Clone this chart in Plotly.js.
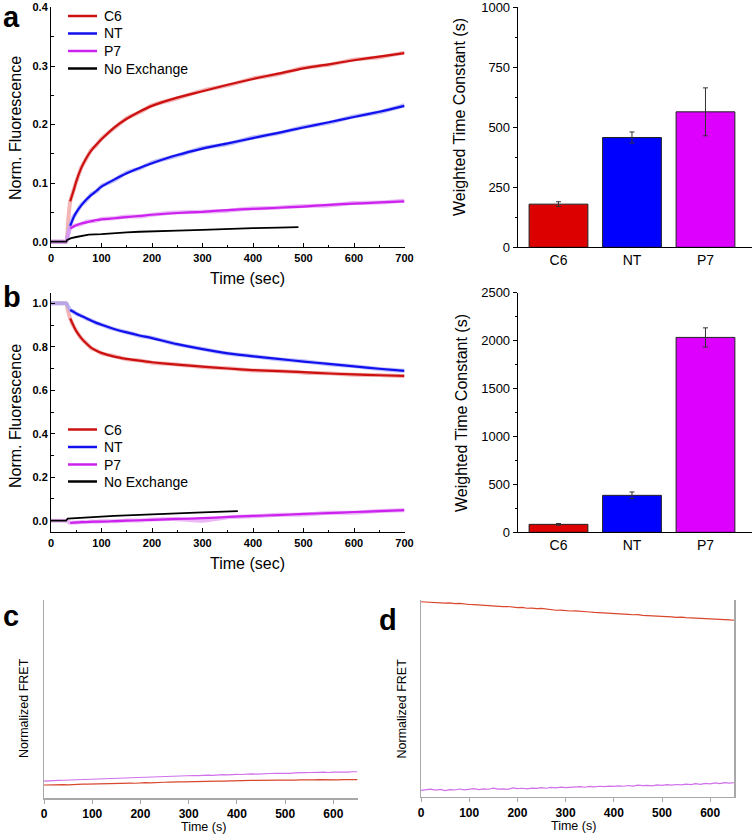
<!DOCTYPE html>
<html>
<head>
<meta charset="utf-8">
<script src="https://cdn.plot.ly/plotly-3.0.1.min.js"></script>
<style>html,body{margin:0;padding:0;background:#fff}#chart{width:752px;height:835px}</style>
</head>
<body>
<div id="chart"></div>
<script>
// ---------- data ----------
// Panel a / b time axis (s)
var tAB = [0,10,20,30,34,38,45,50,60,70,80,90,100,125,150,175,200,250,300,350,400,450,500,550,600,650,700];

// Panel a: normalized fluorescence (fits and raw data)
var aC6Fit = [null,null,null,null,null,0.069,0.088,0.103,0.126,0.143,0.156,0.166,0.175,0.195,0.210,0.222,0.232,0.246,0.257,0.268,0.278,0.287,0.296,0.303,0.310,0.316,0.322];
var aC6Dat = [0,0,0,0,0.036,0.069,0.089,0.102,0.127,0.142,0.157,0.165,0.176,0.194,0.211,0.221,0.233,0.245,0.258,0.267,0.279,0.286,0.297,0.302,0.311,0.315,0.323];
var aNTFit = [null,null,null,null,null,0.027,0.042,0.050,0.062,0.072,0.080,0.087,0.094,0.106,0.117,0.126,0.134,0.148,0.159,0.168,0.177,0.186,0.195,0.204,0.213,0.222,0.232];
var aNTDat = [0,0,0,0,0.014,0.027,0.043,0.049,0.063,0.071,0.081,0.086,0.095,0.105,0.118,0.125,0.135,0.147,0.160,0.167,0.178,0.185,0.196,0.203,0.214,0.221,0.233];
var aP7Fit = [null,null,null,null,null,0.023,0.026,0.028,0.031,0.033,0.035,0.037,0.038,0.040,0.042,0.044,0.046,0.049,0.051,0.054,0.056,0.058,0.060,0.063,0.065,0.067,0.069];
var aP7Dat = [0,0,0,0,0.012,0.023,0.027,0.028,0.030,0.034,0.035,0.036,0.039,0.040,0.043,0.043,0.046,0.050,0.051,0.053,0.057,0.058,0.061,0.062,0.066,0.067,0.070];
var tNoExA = [0,10,20,30,32,40,50,60,75,100,125,150,175,200,250,300,350,400,450,490];
var aNoEx  = [0,0,0,0,0.003,0.006,0.008,0.010,0.012,0.013,0.015,0.016,0.017,0.018,0.019,0.020,0.022,0.023,0.024,0.025];

// Panel b
var bC6Fit = [null,null,null,null,null,0.930,0.895,0.872,0.840,0.815,0.795,0.782,0.772,0.755,0.744,0.736,0.729,0.718,0.709,0.700,0.693,0.688,0.683,0.677,0.673,0.669,0.666];
var bC6Dat = [1,1,1,1,0.962,0.930,0.893,0.874,0.838,0.816,0.793,0.783,0.770,0.757,0.742,0.737,0.727,0.719,0.707,0.701,0.691,0.689,0.681,0.678,0.671,0.670,0.664];
var bNTFit = [null,null,null,null,null,0.969,0.960,0.953,0.942,0.931,0.920,0.910,0.901,0.882,0.866,0.852,0.840,0.812,0.789,0.770,0.756,0.744,0.732,0.721,0.710,0.699,0.689];
var bNTDat = [1,1,1,1,0.985,0.969,0.961,0.952,0.943,0.930,0.921,0.909,0.902,0.881,0.867,0.851,0.841,0.811,0.790,0.769,0.757,0.743,0.733,0.720,0.711,0.698,0.690];
var bP7Fit = [null,null,null,null,null,-0.010,-0.009,-0.008,-0.007,-0.006,-0.005,-0.004,-0.004,-0.002,0.000,0.002,0.004,0.008,0.012,0.017,0.022,0.026,0.031,0.035,0.040,0.044,0.049];
var bP7Dat = [0,0,0,0,-0.004,-0.010,-0.008,-0.009,-0.006,-0.007,-0.004,-0.005,-0.003,-0.003,0.001,0.001,0.005,0.007,0.000,0.016,0.020,0.027,0.028,0.036,0.037,0.045,0.048];
var tNoExB = [0,10,20,30,33,50,75,100,125,150,200,250,300,350,370];
var bNoEx  = [0,0,0,0,0.010,0.013,0.016,0.019,0.022,0.025,0.030,0.034,0.038,0.042,0.044];

// Legend entries (panels a and b)
var legendNames = ['C6', 'NT', 'P7', 'No Exchange'];

// Bar charts: weighted time constants
var cats = ['C6','NT','P7'];
var tauA = [180, 458, 565];
var tauAErr = [10, 23, 100];
var tauB = [83, 386, 2035];
var tauBErr = [9, 35, 100];

// Panels c / d: normalized FRET (arbitrary units)
var tCD = [0,10,20,30,40,50,60,70,80,90,100,110,120,130,140,150,160,170,180,190,200,210,220,230,240,250,260,270,280,290,300,310,320,330,340,350,360,370,380,390,400,410,420,430,440,450,460,470,480,490,500,510,520,530,540,550,560,570,580,590,600,610,620,630,640,650];
var cP7 = [0.087,0.089,0.088,0.090,0.091,0.092,0.091,0.094,0.095,0.094,0.096,0.097,0.099,0.098,0.100,0.101,0.102,0.101,0.104,0.105,0.106,0.107,0.105,0.108,0.110,0.109,0.111,0.112,0.111,0.113,0.114,0.115,0.114,0.116,0.117,0.116,0.118,0.119,0.118,0.120,0.121,0.120,0.122,0.123,0.122,0.124,0.123,0.125,0.126,0.125,0.127,0.126,0.128,0.127,0.129,0.130,0.129,0.131,0.132,0.130,0.132,0.131,0.133,0.132,0.134,0.134];
var cC6 = [0.067,0.068,0.067,0.068,0.069,0.068,0.070,0.070,0.071,0.071,0.072,0.073,0.072,0.074,0.074,0.075,0.075,0.076,0.077,0.076,0.078,0.079,0.078,0.080,0.080,0.081,0.082,0.081,0.083,0.083,0.084,0.084,0.085,0.085,0.086,0.086,0.087,0.087,0.088,0.088,0.089,0.089,0.089,0.090,0.090,0.091,0.090,0.091,0.091,0.092,0.092,0.091,0.092,0.093,0.092,0.093,0.093,0.094,0.093,0.094,0.094,0.093,0.094,0.095,0.094,0.094];
var dC6 = [0.991,0.989,0.990,0.987,0.986,0.984,0.985,0.982,0.983,0.979,0.977,0.976,0.974,0.975,0.971,0.970,0.968,0.966,0.967,0.963,0.961,0.962,0.958,0.959,0.956,0.957,0.953,0.951,0.948,0.949,0.946,0.944,0.945,0.942,0.940,0.939,0.937,0.936,0.934,0.933,0.931,0.932,0.928,0.927,0.925,0.926,0.922,0.921,0.919,0.920,0.917,0.916,0.914,0.912,0.913,0.910,0.909,0.907,0.908,0.905,0.904,0.902,0.903,0.900,0.899,0.897];
var dP7 = [0.032,0.036,0.038,0.033,0.037,0.031,0.036,0.034,0.039,0.035,0.037,0.041,0.036,0.040,0.038,0.044,0.039,0.040,0.037,0.045,0.041,0.043,0.040,0.044,0.042,0.046,0.043,0.047,0.045,0.049,0.046,0.048,0.047,0.051,0.048,0.052,0.050,0.053,0.051,0.054,0.052,0.055,0.053,0.057,0.054,0.059,0.056,0.058,0.055,0.060,0.058,0.061,0.059,0.062,0.060,0.064,0.061,0.066,0.063,0.068,0.065,0.070,0.067,0.072,0.069,0.071];

// ---------- styling ----------
var W = 752, H = 835;
var FONT = 'Liberation Sans, Arial, sans-serif';
function dx(a, b) { return [a / W, b / W]; }
function dy(top, bot) { return [1 - bot / H, 1 - top / H]; }
function px(x) { return x / W; }
function py(y) { return 1 - y / H; }

var RED = '#cc1111', BLUE = '#1111ee', MAG = '#cc22ee', BLK = '#000000';
var RED_L = 'rgba(238,150,150,0.7)', BLUE_L = 'rgba(160,160,250,0.7)', MAG_L = 'rgba(228,150,242,0.7)';
var legendColors = [RED, BLUE, MAG, BLK];

function dataTrace(x, y, col, xa, ya) {
  return {x: x, y: y, xaxis: xa, yaxis: ya, type: 'scatter', mode: 'lines',
    line: {color: col, width: 4, shape: 'spline', smoothing: 0.5}, showlegend: false, hoverinfo: 'skip', connectgaps: false};
}
function fitTrace(x, y, col, name, xa, ya, w, shape) {
  return {x: x, y: y, xaxis: xa, yaxis: ya, type: 'scatter', mode: 'lines', name: name, showlegend: false,
    line: {color: col, width: w || 2.2, shape: shape || 'spline', smoothing: 0.8}, connectgaps: false};
}

var traces = [
  // panel a
  dataTrace(tAB, aC6Dat, RED_L, 'x', 'y'),
  dataTrace(tAB, aNTDat, BLUE_L, 'x', 'y'),
  dataTrace(tAB, aP7Dat, MAG_L, 'x', 'y'),
  fitTrace(tAB, aC6Fit, RED, 'C6', 'x', 'y'),
  fitTrace(tAB, aNTFit, BLUE, 'NT', 'x', 'y'),
  fitTrace(tAB, aP7Fit, MAG, 'P7', 'x', 'y'),
  fitTrace(tNoExA, aNoEx, BLK, 'No Exchange', 'x', 'y', 1.8, 'linear'),
  // panel b
  dataTrace(tAB, bC6Dat, RED_L, 'x3', 'y3'),
  dataTrace(tAB, bNTDat, BLUE_L, 'x3', 'y3'),
  dataTrace(tAB, bP7Dat, MAG_L, 'x3', 'y3'),
  fitTrace(tAB, bC6Fit, RED, 'C6', 'x3', 'y3'),
  fitTrace(tAB, bNTFit, BLUE, 'NT', 'x3', 'y3'),
  fitTrace(tAB, bP7Fit, MAG, 'P7', 'x3', 'y3'),
  fitTrace(tNoExB, bNoEx, BLK, 'No Exchange', 'x3', 'y3', 1.8, 'linear'),
  // bars
  {type: 'bar', x: cats, y: tauA, xaxis: 'x2', yaxis: 'y2', width: 0.8, showlegend: false,
   marker: {color: ['#dd0000', '#0000ff', '#dd00ff'], line: {color: '#222', width: 1}},
   error_y: {type: 'data', array: tauAErr, visible: true, color: '#333', thickness: 1, width: 2.5}},
  {type: 'bar', x: cats, y: tauB, xaxis: 'x4', yaxis: 'y4', width: 0.8, showlegend: false,
   marker: {color: ['#dd0000', '#0000ff', '#dd00ff'], line: {color: '#222', width: 1}},
   error_y: {type: 'data', array: tauBErr, visible: true, color: '#333', thickness: 1, width: 2.5}},
  // panel c
  {x: tCD, y: cP7, xaxis: 'x5', yaxis: 'y5', type: 'scatter', mode: 'lines', line: {color: '#d070ea', width: 1.2}, showlegend: false},
  {x: tCD, y: cC6, xaxis: 'x5', yaxis: 'y5', type: 'scatter', mode: 'lines', line: {color: '#d9472e', width: 1.2}, showlegend: false},
  // panel d
  {x: tCD, y: dC6, xaxis: 'x6', yaxis: 'y6', type: 'scatter', mode: 'lines', line: {color: '#d9472e', width: 1.2}, showlegend: false},
  {x: tCD, y: dP7, xaxis: 'x6', yaxis: 'y6', type: 'scatter', mode: 'lines', line: {color: '#d070ea', width: 1.2}, showlegend: false}
];

var tickFontAB = {family: FONT, size: 11, color: '#000', weight: 'bold'};
function lineX(dom, anchor) {
  return {domain: dom, anchor: anchor, range: [0, 700], showline: true, linecolor: '#000', linewidth: 1,
    ticks: 'inside', ticklen: 4, tickcolor: '#000', dtick: 100, tick0: 0, showgrid: false, zeroline: false,
    tickfont: tickFontAB, minor: {dtick: 50, ticks: 'inside', ticklen: 2.5, tickcolor: '#000'}};
}
function lineY(dom, anchor, rng, dt, mdt, fmt) {
  return {domain: dom, anchor: anchor, range: rng, showline: true, linecolor: '#000', linewidth: 1,
    ticks: 'inside', ticklen: 4, tickcolor: '#000', dtick: dt, tick0: 0, tickformat: fmt, showgrid: false, zeroline: false,
    tickfont: tickFontAB, minor: {dtick: mdt, ticks: 'inside', ticklen: 2.5, tickcolor: '#000'}};
}
function barX(dom, anchor) {
  return {domain: dom, anchor: anchor, type: 'category', range: [-0.555, 2.633], showline: true, linecolor: '#000',
    linewidth: 1, ticks: '', showgrid: false, zeroline: false, tickfont: {family: FONT, size: 14, color: '#000'}};
}
function barY(dom, anchor, rng, dt, mdt) {
  return {domain: dom, anchor: anchor, range: rng, showline: true, linecolor: '#000', linewidth: 1,
    ticks: 'outside', ticklen: 4, tickcolor: '#000', dtick: dt, tick0: 0, showgrid: false, zeroline: false,
    tickfont: {family: FONT, size: 13, color: '#000'}, minor: {dtick: mdt, ticks: 'outside', ticklen: 2, tickcolor: '#000'}};
}
function fretX(dom, anchor) {
  return {domain: dom, anchor: anchor, range: [0, 650], showline: true, linecolor: '#a8a8a8', linewidth: 1.5,
    ticks: 'outside', ticklen: 4, tickcolor: '#a8a8a8', dtick: 100, tick0: 0, showgrid: false, zeroline: false,
    tickfont: {family: FONT, size: 12, color: '#000', weight: 'bold'}};
}
function fretY(dom, anchor, mirror) {
  return {domain: dom, anchor: anchor, range: [0, 1], showline: true, linecolor: '#a8a8a8', linewidth: 1.5,
    mirror: mirror, ticks: '', showticklabels: false, showgrid: false, zeroline: false};
}

function ann(text, x, y, size, opts) {
  var a = {text: text, x: px(x), y: py(y), xref: 'paper', yref: 'paper', showarrow: false,
    xanchor: 'center', yanchor: 'middle', font: {family: FONT, size: size, color: '#000'}};
  if (opts) for (var k in opts) a[k] = opts[k];
  return a;
}
var letterFont = {family: FONT, size: 29, color: '#000', weight: 'bold'};

var annotations = [
  ann('a', 12, 0, 29, {font: letterFont, yanchor: 'top', borderpad: 0}),
  ann('b', 12, 297, 29, {font: letterFont}),
  ann('c', 11, 616, 29, {font: letterFont}),
  ann('d', 388, 620, 29, {font: letterFont}),
  ann('Norm. Fluorescence', 15, 128, 16, {textangle: -90}),
  ann('Time (sec)', 247.5, 278.5, 16),
  ann('Weighted Time Constant (s)', 459.5, 117.5, 16, {textangle: -90}),
  ann('Norm. Fluorescence', 15, 416, 16, {textangle: -90}),
  ann('Time (sec)', 247.5, 563, 16),
  ann('Weighted Time Constant (s)', 461, 413, 16, {textangle: -90}),
  ann('Normalized FRET', 23.5, 708.5, 12.5, {textangle: -90}),
  ann('Time (s)', 204, 826.5, 12.5),
  ann('Normalized FRET', 401, 708.5, 12.5, {textangle: -90}),
  ann('Time (s)', 573, 825.5, 12.5)
];
var shapes = [];
// legends for panels a and b (line sample + label)
var legRowsA = [16, 33.5, 51, 68.5];
var legRowsB = [429.5, 447, 464.5, 481.5];
[legRowsA, legRowsB].forEach(function (rows) {
  rows.forEach(function (yy, i) {
    shapes.push({type: 'line', xref: 'paper', yref: 'paper', x0: px(68), x1: px(97), y0: py(yy), y1: py(yy),
      line: {color: legendColors[i], width: 2.5}});
    annotations.push(ann(legendNames[i], 101.5, yy, 14, {xanchor: 'left'}));
  });
});

var layout = {
  width: W, height: H, margin: {l: 0, r: 0, t: 0, b: 0},
  paper_bgcolor: '#fff', plot_bgcolor: 'rgba(0,0,0,0)',
  font: {family: FONT, color: '#000'}, showlegend: false,
  xaxis: lineX(dx(51, 404.5), 'y'),
  yaxis: lineY(dy(7.3, 247.3), 'x', [-0.0096, 0.4004], 0.1, 0.05, '.1f'),
  xaxis2: barX(dx(517.7, 752), 'y2'),
  yaxis2: barY(dy(7.3, 247.3), 'x2', [0, 1001], 250, 125),
  xaxis3: lineX(dx(51, 404.5), 'y3'),
  yaxis3: lineY(dy(292.7, 532.3), 'x3', [-0.0534, 1.0488], 0.2, 0.1, '.1f'),
  xaxis4: barX(dx(517.7, 752), 'y4'),
  yaxis4: barY(dy(292.7, 532.3), 'x4', [0, 2502], 500, 250),
  xaxis5: fretX(dx(44, 357.5), 'y5'),
  yaxis5: fretY(dy(600, 798.3), 'x5', false),
  xaxis6: fretX(dx(421, 734.3), 'y6'),
  yaxis6: fretY(dy(600, 796.7), 'x6', true),
  annotations: annotations,
  shapes: shapes
};

Plotly.newPlot('chart', traces, layout, {displayModeBar: false, staticPlot: true});
</script>
</body>
</html>
